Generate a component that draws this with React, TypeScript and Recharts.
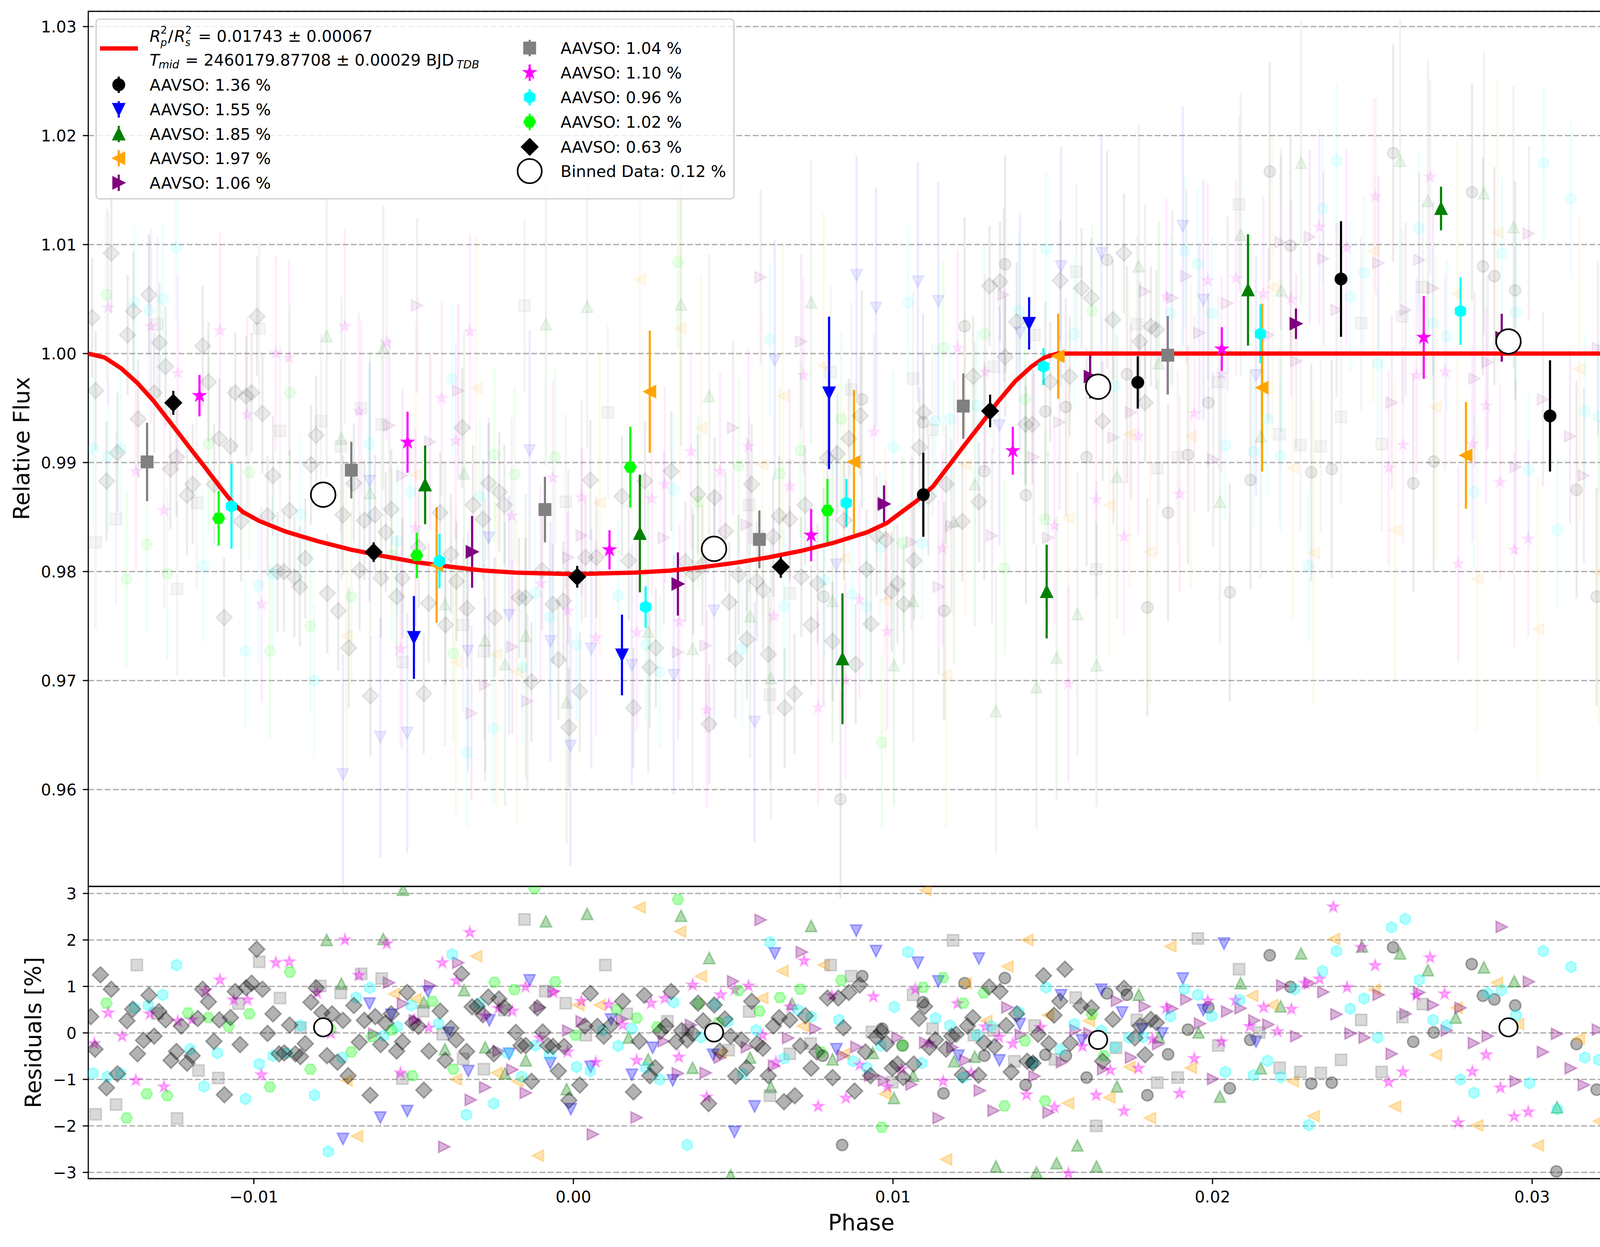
import React from 'react';
import { ComposedChart, Scatter, XAxis, YAxis, CartesianGrid, ErrorBar, ReferenceArea } from 'recharts';

// ---------------- axes ----------------
const XMIN = -0.01518;
const XMAX = 0.0332;
const FMIN = 0.95111;
const FMAX = 1.0314;
const RMIN = -3.134;
const RMAX = 3.151;
const PHASE_TICKS = [-0.01, 0, 0.01, 0.02, 0.03];
const FLUX_TICKS = [0.96, 0.97, 0.98, 0.99, 1.0, 1.01, 1.02, 1.03];
const RESID_TICKS = [-3, -2, -1, 0, 1, 2, 3];

// ---------------- legend text ----------------
const LABELS = ['AAVSO: 1.36 %', 'AAVSO: 1.55 %', 'AAVSO: 1.85 %', 'AAVSO: 1.97 %', 'AAVSO: 1.06 %', 'AAVSO: 1.04 %', 'AAVSO: 1.10 %', 'AAVSO: 0.96 %', 'AAVSO: 1.02 %', 'AAVSO: 0.63 %'];
const BINNED_LABEL = 'Binned Data: 0.12 %';

// ---------------- transit model (phase, flux) ----------------
const MODEL_CURVE = [
  [-0.01518, 1.0], [-0.01467, 0.99964], [-0.01415, 0.99864], [-0.01364, 0.99729], [-0.01313, 0.99563], [-0.01261, 0.99367], [-0.0121, 0.99172], [-0.01158, 0.98976], [-0.01107, 0.9878], [-0.01066, 0.9863], [-0.01035, 0.98548], [-0.00983, 0.98464], [-0.00901, 0.98367], [-0.00798, 0.98277], [-0.00695, 0.982], [-0.00592, 0.9814], [-0.00489, 0.98085], [-0.00387, 0.98045], [-0.00284, 0.9801], [-0.00181, 0.9799], [0.00005, 0.97976], [0.00191, 0.9799], [0.00301, 0.98008], [0.00403, 0.9804], [0.00507, 0.9808], [0.0061, 0.9813], [0.00713, 0.9819], [0.00816, 0.98265], [0.00919, 0.9836], [0.00981, 0.98445], [0.01022, 0.98535], [0.01073, 0.98645], [0.01125, 0.9878], [0.01176, 0.98976], [0.01227, 0.99172], [0.01279, 0.99367], [0.0133, 0.99563], [0.01382, 0.99744], [0.01433, 0.9988], [0.01475, 0.99965], [0.01515, 1.0], [0.0332, 1.0],
];

// ---------------- binned data ----------------
const BINNED_FLUX = [[-0.00783, 0.98705], [0.0044, 0.98208], [0.01642, 0.99696], [0.02926, 1.00111]];
const BINNED_RESID = [[-0.00783, 0.12], [0.0044, 0.01], [0.01642, -0.15], [0.02926, 0.12]];

// ---------------- per-observer binned points (phase, flux, err) ----------------
const SOLID_O = [[0.01095, 0.98705, 0.00386], [0.01766, 0.99735, 0.0024], [0.02402, 1.00684, 0.0053], [0.03056, 0.99428, 0.0051]];
const SOLID_V = [[-0.00499, 0.97395, 0.0038], [0.00152, 0.97235, 0.0037], [0.008, 0.99639, 0.007], [0.01426, 1.00277, 0.0024]];
const SOLID_UP = [[-0.00464, 0.98795, 0.0036], [0.00208, 0.98349, 0.0054], [0.00842, 0.97199, 0.006], [0.01481, 0.97816, 0.0043], [0.02111, 1.00584, 0.0051], [0.02715, 1.01331, 0.002]];
const SOLID_LEFT = [[-0.00428, 0.9806, 0.0053], [0.00239, 0.99651, 0.0056], [0.00878, 0.99006, 0.0066], [0.01517, 0.99976, 0.0039], [0.02155, 0.99687, 0.0077], [0.02793, 0.99066, 0.0049]];
const SOLID_RIGHT = [[-0.00317, 0.98181, 0.0033], [0.00327, 0.97886, 0.0029], [0.00972, 0.9862, 0.0017], [0.01617, 0.99789, 0.002], [0.02261, 1.00274, 0.0014], [0.02905, 1.00145, 0.0022]];
const SOLID_SQ = [[-0.01334, 0.99006, 0.0036], [-0.00695, 0.98931, 0.0026], [-0.00089, 0.98569, 0.003], [0.00582, 0.98295, 0.00265], [0.0122, 0.99518, 0.003], [0.0186, 0.99985, 0.0036]];
const SOLID_STAR = [[-0.0117, 0.99614, 0.0019], [-0.00519, 0.99187, 0.0028], [0.00113, 0.98199, 0.0018], [0.00744, 0.98334, 0.0024], [0.01375, 0.99108, 0.0022], [0.02029, 1.00042, 0.002], [0.02661, 1.00148, 0.0038]];
const SOLID_HEX1 = [[-0.0107, 0.98599, 0.0039], [-0.00419, 0.98096, 0.0025], [0.00226, 0.97675, 0.0019], [0.00854, 0.9863, 0.0022], [0.01471, 0.9988, 0.0017], [0.0215, 1.00181, 0.0027], [0.02776, 1.00389, 0.0031]];
const SOLID_HEX2 = [[-0.0111, 0.98488, 0.0025], [-0.0049, 0.98148, 0.0021], [0.00178, 0.98958, 0.0037], [0.00795, 0.9856, 0.0029]];
const SOLID_DIA = [[-0.01252, 0.99548, 0.0011], [-0.00625, 0.98178, 0.0009], [0.00012, 0.97952, 0.001], [0.00649, 0.98042, 0.001], [0.01304, 0.99473, 0.0015]];

// ---------------- raw points in the flux panel (phase, flux) ----------------
const BG_O = [[0.00903, 0.9958], [0.01224, 1.0025], [0.01351, 1.0082], [0.0167, 1.0086], [0.01094, 0.9937], [0.01286, 0.9892], [0.01416, 0.987], [0.01477, 0.9947], [0.01541, 0.9951], [0.01606, 0.9905], [0.0116, 0.9764], [0.00783, 0.9777], [0.01732, 0.9981], [0.01987, 0.9955], [0.02179, 1.0167], [0.02244, 1.0099], [0.02309, 0.9891], [0.02373, 0.9894], [0.02119, 0.9884], [0.01923, 0.9907], [0.01861, 0.9854], [0.01796, 0.9767], [0.02054, 0.9781], [0.02628, 0.9881], [0.02692, 0.9901], [0.02812, 1.0148], [0.02846, 1.008], [0.02882, 1.0071], [0.02947, 1.0058], [0.03139, 0.9875], [0.03202, 0.9777], [0.03266, 0.9763], [0.02565, 1.0184], [0.00836, 0.9591]];
const BG_V = [[-0.00137, 0.9911], [-0.00638, 0.9883], [-0.00265, 0.9831], [-0.00201, 0.976], [-0.00072, 0.9736], [0.00056, 0.9729], [-0.0033, 0.9727], [-0.00604, 0.9648], [-0.0052, 0.9652], [-0.00009, 0.964], [0.00886, 1.0072], [0.01078, 1.0066], [0.00947, 1.0042], [0.01142, 1.0048], [0.0063, 0.9994], [0.01397, 1.0019], [0.01526, 1.008], [0.01652, 1.0092], [0.01333, 0.9934], [0.00823, 0.9806], [0.0044, 0.9764], [0.00314, 0.9705], [0.00183, 0.9714], [0.00567, 0.9662], [0.01907, 1.0117], [0.01971, 1.0049], [0.02136, 0.998], [-0.00721, 0.9614]];
const BG_UP = [[-0.00772, 1.0016], [-0.00726, 0.9922], [-0.00595, 1.0005], [-0.00086, 1.0027], [0.00043, 1.0043], [-0.00342, 0.989], [-0.00636, 0.9872], [-0.00402, 0.977], [-0.00276, 0.9737], [-0.00214, 0.9715], [-0.00149, 0.9741], [-0.00021, 0.968], [0.00337, 1.0045], [0.00425, 0.9961], [0.00744, 1.0047], [0.00553, 0.9759], [0.00618, 0.9702], [0.00811, 0.9773], [0.01003, 0.9714], [0.01063, 0.9773], [0.01191, 0.9846], [0.01256, 0.988], [0.01322, 0.9672], [0.01449, 0.9694], [0.01512, 0.9721], [0.01577, 0.9761], [0.01637, 0.9714], [0.01701, 0.9887], [0.00373, 0.9729], [0.00234, 0.9745], [0.02277, 1.0175], [0.02587, 1.0177], [0.02849, 1.0147], [0.02674, 1.014], [0.02942, 1.0116], [0.02215, 1.0058], [0.02088, 1.0109], [0.01769, 1.008], [0.01832, 0.9991], [0.03239, 1.0064], [0.02151, 0.9924], [0.02023, 0.9864]];
const BG_LEFT = [[-0.00304, 0.9968], [-0.00494, 0.9889], [-0.00368, 0.9717], [-0.00242, 0.9724], [-0.00177, 0.9708], [-0.0071, 0.9741], [0.00082, 0.9863], [0.00207, 1.0068], [0.00334, 1.0023], [0.00399, 0.9932], [0.00591, 0.9898], [0.00656, 0.9961], [0.00783, 0.9989], [0.00847, 0.9812], [0.00975, 0.9773], [0.01166, 0.9705], [0.01227, 0.9898], [0.01548, 0.9849], [0.01677, 0.9861], [0.02892, 1.0111], [0.02503, 1.0094], [0.02188, 1.0061], [0.02766, 1.0055], [0.03148, 0.9986], [0.02699, 0.9951], [0.03273, 0.9927], [0.0174, 0.9926], [0.01932, 0.9924], [0.02251, 0.9895], [0.02571, 0.9838], [0.01804, 0.9818], [0.02316, 0.9817], [0.02828, 0.9793], [0.03209, 0.9799], [0.03018, 0.9747]];
const BG_RIGHT = [[-0.00489, 1.0044], [-0.00576, 0.9934], [-0.00448, 0.9919], [-0.0036, 0.9966], [-0.00535, 0.9888], [-0.00016, 0.9813], [-0.00319, 0.967], [-0.00276, 0.9696], [-0.00144, 0.9681], [0.00026, 0.9833], [-0.00191, 0.9731], [0.00586, 1.007], [0.00713, 1.0011], [0.005, 0.9932], [0.01521, 0.9937], [0.0144, 0.9905], [0.01346, 1.0054], [0.0169, 0.9923], [0.01183, 0.9842], [0.01058, 0.9827], [0.00543, 0.9843], [0.00414, 0.9732], [0.00327, 0.9726], [0.00283, 0.9831], [0.01143, 0.9786], [0.0131, 0.9833], [0.01485, 0.9831], [0.0299, 1.011], [0.03291, 1.0083], [0.02304, 1.0107], [0.02213, 1.0102], [0.01918, 1.0071], [0.01789, 1.0057], [0.01874, 1.0051], [0.01959, 1.0019], [0.02047, 1.0046], [0.02347, 1.0087], [0.02519, 1.0083], [0.02175, 1.0017], [0.02262, 0.9993], [0.02388, 1.004], [0.02604, 1.004], [0.02647, 1.0086], [0.0269, 1.006], [0.02861, 0.9992], [0.0282, 0.9977], [0.02949, 0.9896], [0.03034, 0.9958], [0.03119, 0.9924], [0.03162, 0.9888], [0.03206, 1.0005], [0.02561, 0.9955], [0.02002, 0.9903], [0.01745, 0.9946]];
const BG_SQ = [[-0.01302, 1.0027], [-0.00983, 1.0023], [-0.00918, 0.9929], [-0.01179, 0.9863], [-0.01431, 0.9848], [-0.01495, 0.9827], [-0.0124, 0.9784], [-0.0079, 0.9938], [-0.00728, 0.9915], [-0.00664, 0.995], [-0.006, 0.9935], [-0.00535, 0.9717], [-0.00345, 0.9751], [-0.0028, 0.9727], [-0.00153, 1.0044], [-0.00024, 0.9864], [0.00108, 0.9946], [0.0055, 0.9861], [0.00615, 0.9687], [0.00677, 0.978], [0.00805, 0.9983], [0.00869, 0.9967], [0.01063, 0.9977], [0.01124, 0.993], [0.01315, 0.9988], [0.01443, 1.0017], [0.01574, 1.0075], [0.01636, 0.9802], [0.02083, 1.0137], [0.02658, 1.0061], [0.02465, 1.0028], [0.02594, 1.0034], [0.02018, 0.9974], [0.01763, 1.0027], [0.01827, 0.9895], [0.01891, 0.9905], [0.0221, 0.9926], [0.02275, 0.9916], [0.02339, 0.9915], [0.02402, 0.9942], [0.02529, 0.9917]];
const BG_STAR = [[-0.01456, 1.0042], [-0.01322, 1.0025], [-0.01106, 1.0021], [-0.01238, 0.9982], [-0.01021, 0.9944], [-0.00931, 1.0], [-0.0089, 0.9996], [-0.00715, 1.0025], [-0.00671, 0.9947], [-0.00584, 1.001], [-0.00412, 0.9959], [-0.00368, 0.992], [-0.00324, 1.002], [-0.01369, 0.9892], [-0.01281, 0.9856], [-0.00976, 0.977], [-0.00494, 0.984], [-0.00193, 0.9851], [-0.00103, 0.9789], [-0.00064, 0.9886], [-0.00018, 0.9764], [0.00026, 0.9868], [0.0007, 0.9739], [-0.00541, 0.9729], [0.00368, 0.991], [0.00459, 0.9892], [0.00548, 0.9915], [0.00677, 0.9878], [0.0072, 0.998], [0.00941, 0.9928], [0.01202, 1.0005], [0.01289, 0.9983], [0.01636, 0.9866], [0.01505, 0.9842], [0.01155, 0.9821], [0.00982, 0.9745], [0.00895, 0.9774], [0.00852, 0.97], [0.00766, 0.9675], [0.00418, 0.9673], [0.00332, 0.9754], [0.00198, 0.9744], [0.00286, 0.988], [0.00245, 0.9867], [0.00627, 0.9759], [0.01549, 0.9697], [0.02681, 1.0162], [0.0251, 1.0144], [0.02334, 1.0116], [0.02728, 0.9983], [0.02638, 0.998], [0.02419, 1.0097], [0.02246, 1.005], [0.02159, 1.0055], [0.01985, 1.0067], [0.02074, 1.0069], [0.01856, 1.0052], [0.02028, 0.9981], [0.01943, 0.9945], [0.01768, 0.9924], [0.01897, 0.9871], [0.02596, 0.9916], [0.02551, 0.9895], [0.02856, 0.9952], [0.02813, 0.9917], [0.029, 0.9882], [0.02988, 0.983], [0.02944, 0.982], [0.02769, 0.9807], [0.01723, 0.9832]];
const BG_HEX1 = [[-0.01243, 1.0097], [-0.01285, 1.005], [-0.01328, 1.004], [-0.01374, 1.0047], [-0.01503, 0.9913], [-0.01456, 0.9906], [-0.01417, 0.9913], [-0.00638, 0.9917], [-0.00379, 0.9977], [-0.00854, 0.9853], [-0.01158, 0.9805], [-0.00985, 0.9787], [-0.01026, 0.9727], [-0.00812, 0.97], [-0.00551, 0.9828], [-0.0051, 0.9873], [-0.00293, 0.9869], [-0.00119, 0.978], [-0.00074, 0.9758], [0.0001, 0.9733], [-0.0025, 0.9656], [-0.00333, 0.9634], [-0.00942, 0.9798], [-0.0016, 0.9712], [0.00615, 1.0013], [0.01047, 1.0047], [0.00314, 0.9875], [0.01001, 0.9914], [0.01133, 0.9938], [0.01178, 0.994], [0.01263, 0.9952], [0.01394, 1.0039], [0.01479, 1.0096], [0.01567, 1.0018], [0.01091, 0.9826], [0.0096, 0.9822], [0.00917, 0.9768], [0.00872, 0.9779], [0.00787, 0.9792], [0.00659, 0.9768], [0.00528, 0.9729], [0.0027, 0.9708], [0.00227, 0.9733], [0.0014, 0.9778], [0.01695, 0.997], [0.02388, 1.0177], [0.03036, 1.0175], [0.03122, 1.0142], [0.02344, 1.0133], [0.01912, 1.0094], [0.01953, 1.0082], [0.01997, 1.0037], [0.01868, 1.0037], [0.02905, 1.0092], [0.02645, 1.0115], [0.02474, 1.0074], [0.02431, 1.0052], [0.02517, 0.9991], [0.0269, 1.0028], [0.02733, 1.0016], [0.02949, 1.0038], [0.03295, 1.0015], [0.03165, 0.9947], [0.03208, 0.9942], [0.0299, 0.9893], [0.02818, 0.9873], [0.02213, 0.9906], [0.02172, 0.994], [0.02128, 0.991], [0.0204, 0.9916], [0.02301, 0.9805], [0.03079, 0.9838], [0.03251, 0.9733]];
const BG_HEX2 = [[-0.01461, 1.0054], [-0.01335, 0.9825], [-0.01398, 0.9793], [-0.01271, 0.9798], [-0.01142, 0.9917], [-0.01014, 0.9891], [-0.00887, 0.9964], [-0.00695, 0.9777], [-0.00247, 0.9907], [-0.00184, 0.9889], [-0.00057, 0.9905], [-0.00823, 0.975], [-0.0095, 0.9727], [-0.00376, 0.9725], [-0.00568, 0.9815], [0.00327, 1.0084], [0.00517, 0.9897], [0.00646, 0.989], [0.0071, 0.9911], [0.00838, 0.994], [0.00965, 0.9643], [0.0103, 0.9826], [0.01157, 1.0005], [0.01286, 1.0018], [0.01413, 0.9958], [0.01623, 1.0039], [0.00391, 0.9864], [0.01349, 0.9803], [0.01476, 0.9848]];
const BG_DIA = [[-0.01446, 1.0092], [-0.01328, 1.0054], [-0.01377, 1.0039], [-0.01506, 1.0033], [-0.0099, 1.0034], [-0.01395, 1.0017], [-0.01295, 1.001], [-0.0116, 1.0007], [-0.01276, 0.9988], [-0.01142, 0.9974], [-0.01495, 0.9966], [-0.01312, 0.9964], [-0.01058, 0.9964], [-0.01007, 0.9964], [-0.01024, 0.9961], [-0.00973, 0.9945], [-0.01362, 0.994], [-0.00805, 0.9925], [-0.01108, 0.9922], [-0.01073, 0.9915], [-0.01427, 0.9909], [-0.01242, 0.9905], [-0.01261, 0.9894], [-0.00821, 0.9898], [-0.01461, 0.9883], [-0.0094, 0.9888], [-0.01191, 0.988], [-0.01209, 0.987], [-0.01124, 0.988], [-0.00687, 0.9881], [-0.00888, 0.9856], [-0.00957, 0.9851], [-0.0104, 0.9846], [-0.00721, 0.9852], [-0.0057, 0.9857], [-0.00654, 0.9847], [-0.00621, 0.9852], [-0.00587, 0.9836], [-0.00417, 0.9854], [-0.00348, 0.9932], [-0.00265, 0.9881], [-0.00232, 0.9873], [-0.00314, 0.9861], [-0.00216, 0.9861], [-0.00283, 0.9848], [0.00053, 0.9884], [-0.00839, 0.9812], [-0.00926, 0.98], [-0.00906, 0.98], [-0.00873, 0.9795], [-0.00856, 0.9786], [-0.00669, 0.9801], [-0.00602, 0.9794], [-0.00535, 0.9794], [-0.00484, 0.9822], [-0.00383, 0.9816], [-0.00366, 0.9791], [-0.0077, 0.978], [-0.00736, 0.9764], [-0.00553, 0.9777], [-0.00453, 0.9771], [-0.00333, 0.9766], [-0.00247, 0.9758], [-0.004, 0.9751], [-0.0017, 0.9776], [-0.0015, 0.9776], [-0.00098, 0.9801], [-0.00064, 0.977], [-0.00031, 0.9773], [0.00038, 0.9813], [0.00072, 0.9813], [-0.00703, 0.973], [-0.01093, 0.9758], [-0.00047, 0.9719], [-0.00635, 0.9686], [-0.00468, 0.9688], [-0.00131, 0.9699], [0.0002, 0.969], [-0.00014, 0.9657], [0.00306, 0.9892], [0.00224, 0.9883], [0.00152, 0.9869], [0.00173, 0.981], [0.00389, 0.9871], [0.00442, 0.9868], [0.00476, 0.9837], [0.00558, 0.988], [0.00625, 0.9832], [0.00644, 0.9851], [0.00677, 0.9848], [0.00725, 0.9861], [0.00847, 0.9847], [0.00862, 0.9922], [0.00826, 0.9908], [0.00795, 0.9904], [0.00898, 0.9943], [0.01096, 0.9946], [0.01083, 0.9914], [0.01111, 0.9869], [0.01166, 0.988], [0.01269, 0.9864], [0.01217, 0.9846], [0.01251, 0.9979], [0.01351, 0.9997], [0.01302, 1.0062], [0.01335, 1.0066], [0.01387, 1.0029], [0.01436, 0.9935], [0.01415, 0.9935], [0.01492, 0.9974], [0.01553, 0.9979], [0.01523, 1.0067], [0.0159, 1.006], [0.01621, 1.0051], [0.01688, 1.0031], [0.01656, 0.9938], [0.00404, 0.9806], [0.00517, 0.9797], [0.00574, 0.9791], [0.00594, 0.9783], [0.00713, 0.9795], [0.00764, 0.9789], [0.00917, 0.9802], [0.00949, 0.9833], [0.00978, 0.9829], [0.00996, 0.9782], [0.01014, 0.9789], [0.01034, 0.977], [0.01066, 0.981], [0.00239, 0.9712], [0.00258, 0.973], [0.00188, 0.9675], [0.00425, 0.966], [0.00507, 0.972], [0.00543, 0.9738], [0.0061, 0.9724], [0.00661, 0.9675], [0.00692, 0.9688], [0.00744, 0.9751], [0.00811, 0.9736], [0.00883, 0.9715], [0.00931, 0.9752], [0.00375, 0.9798], [0.00488, 0.9772], [0.0035, 0.9809], [0.01723, 1.0092], [0.01773, 1.0011], [0.01807, 1.0025], [0.01824, 1.0022], [0.01789, 0.9955]];

// typical raw-point flux error of each observer
const BG_ERRORS = [0.01, 0.011, 0.013, 0.014, 0.008, 0.008, 0.009, 0.007, 0.008, 0.0055];

// ---------------- residuals (phase, residual %) ----------------
const RES_O = [[0.00841, -2.41], [0.0078, -0.49], [0.00904, 1.22], [0.00966, 0.09], [0.0103, -0.27], [0.01094, 0.66], [0.01158, -1.3], [0.01224, 1.07], [0.01286, -0.49], [0.0135, 1.18], [0.01415, -1.12], [0.01436, -0.64], [0.01477, -0.47], [0.01541, -0.49], [0.01606, -0.96], [0.0167, 0.85], [0.01732, 0.82], [0.01796, -1.34], [0.01861, -0.46], [0.01923, 0.07], [0.01987, 0.55], [0.02054, -1.19], [0.02118, -0.15], [0.02179, 1.67], [0.02244, 0.99], [0.02309, -1.09], [0.02373, -1.07], [0.02565, 1.84], [0.02628, -0.19], [0.02692, 0.01], [0.02811, 1.48], [0.02846, 0.8], [0.02882, 0.72], [0.02947, 0.59], [0.03076, -2.98], [0.03139, -0.24], [0.03202, -1.22], [0.03266, -1.38]];
const RES_V = [[-0.00638, 0.63], [-0.00569, 0.39], [-0.00455, 0.89], [-0.00391, 0.0], [-0.00329, -0.82], [-0.00263, 0.27], [-0.00201, -0.45], [-0.00137, 1.13], [-0.00072, -0.65], [-0.00008, -1.64], [0.00054, -0.73], [-0.00721, -2.28], [-0.00604, -1.82], [-0.0052, -1.68], [0.00118, 0.29], [0.00183, -0.9], [0.00248, -0.32], [0.00311, -1.02], [0.00437, -0.47], [0.00504, -2.13], [0.00567, -1.58], [0.0063, 1.71], [0.00823, -0.35], [0.00885, 2.2], [0.00947, 1.76], [0.01078, 1.51], [0.01142, 1.11], [0.01205, -0.49], [0.01269, 1.6], [0.01333, -0.59], [0.01397, 0.19], [0.01526, 0.81], [0.01591, -0.16], [0.01652, 0.93], [0.01717, 0.44], [0.01779, 0.08], [0.01843, -0.01], [0.01907, 1.17], [0.01971, 0.49], [0.02036, 1.92], [0.02136, -0.19]];
const RES_UP = [[-0.00772, 2.0], [-0.00726, 1.06], [-0.00595, 2.02], [-0.00533, 3.08], [-0.00468, 0.66], [-0.00402, -0.35], [-0.00342, 0.92], [-0.00276, -0.31], [-0.00214, -0.87], [-0.00149, -0.59], [-0.00086, 2.4], [-0.00021, -1.21], [0.00043, 2.56], [0.00173, -0.1], [0.00234, -0.57], [0.00337, 2.52], [0.00373, -0.75], [0.00425, 1.61], [0.00492, -3.06], [0.00553, -0.53], [0.00618, -1.16], [0.00684, 0.63], [0.00744, 2.3], [0.00811, -0.57], [0.00937, -0.43], [0.01003, -1.4], [0.01063, -0.92], [0.01191, -0.61], [0.01256, -0.51], [0.01322, -2.87], [0.01449, -3.0], [0.01512, -2.8], [0.01577, -2.42], [0.01637, -2.87], [0.01701, -1.15], [0.01769, 0.82], [0.01832, -0.09], [0.01956, 0.01], [0.02023, -1.37], [0.02088, 1.07], [0.02151, -0.76], [0.02213, 0.57], [0.02277, 1.71], [0.02468, 1.86], [0.02587, 1.71], [0.02674, 1.35], [0.02761, 0.33], [0.02849, 1.41], [0.02944, 1.11], [0.03078, -1.6], [0.03239, 0.6]];
const RES_LEFT = [[-0.00561, 0.84], [-0.00494, 0.73], [-0.00304, 1.65], [-0.00368, -1.0], [-0.0024, -0.86], [-0.00175, -1.04], [-0.00111, -2.64], [0.00015, 0.6], [0.00082, 0.6], [-0.00677, -2.22], [-0.0071, -1.02], [0.00207, 2.7], [0.00334, 2.18], [0.00399, 1.22], [0.00461, -0.43], [0.00591, 0.75], [0.00654, 1.33], [0.00718, 0.15], [0.00783, 1.46], [0.00847, -0.45], [0.00975, -1.31], [0.01102, 3.07], [0.01166, -2.72], [0.01227, 1.07], [0.01292, 0.26], [0.01358, 1.43], [0.0142, 2.0], [0.01485, 0.38], [0.01548, -1.51], [0.01613, 0.26], [0.01677, -1.39], [0.0174, -0.73], [0.01804, -1.83], [0.01868, 1.86], [0.01932, -0.75], [0.02124, 0.8], [0.02187, 0.6], [0.02251, -1.04], [0.02316, -1.79], [0.0238, 2.02], [0.02506, 0.93], [0.02571, -1.58], [0.02699, -0.47], [0.02764, 0.54], [0.02828, -1.99], [0.0289, 1.08], [0.02956, 0.19], [0.03018, -2.42], [0.03146, -0.12], [0.03209, -1.9], [0.03273, -0.67]];
const RES_RIGHT = [[-0.00577, 1.08], [-0.00533, 0.63], [-0.00448, 1.02], [-0.0036, 1.51], [-0.00321, -1.44], [-0.00276, -1.17], [-0.00191, -0.79], [-0.00234, -0.39], [-0.00404, -2.45], [-0.00105, 0.55], [-0.00062, 0.89], [-0.00016, 0.05], [0.00026, 0.25], [0.00061, -2.18], [-0.00149, -1.29], [-0.00623, -0.02], [-0.00496, 0.27], [0.00152, 0.3], [0.00198, -1.82], [0.00283, -0.18], [0.00327, -0.87], [0.00368, 0.17], [0.00414, -0.86], [0.00458, -0.53], [0.005, 1.11], [0.00543, -0.31], [0.00586, 2.43], [0.00628, -0.71], [0.00672, -0.11], [0.00715, 1.74], [0.00757, 0.09], [0.00844, -0.49], [0.00886, -0.3], [0.00929, -0.92], [0.00972, -1.02], [0.01014, -0.1], [0.01058, -1.11], [0.01101, -0.21], [0.01143, -1.83], [0.01186, -0.31], [0.01227, -0.59], [0.01272, -1.24], [0.01315, -1.67], [0.01358, 0.55], [0.014, -0.04], [0.01443, -0.93], [0.01487, -1.71], [0.01529, -0.63], [0.01572, 0.06], [0.01615, -0.01], [0.01658, -0.78], [0.01701, 0.69], [0.01745, -0.53], [0.01788, 0.57], [0.0183, -0.24], [0.01874, 0.52], [0.01918, 0.72], [0.01961, 0.2], [0.02002, -0.99], [0.02046, 0.46], [0.02088, 0.53], [0.02131, 0.27], [0.02175, 0.18], [0.02218, 1.02], [0.02262, -0.07], [0.02304, 1.07], [0.02347, 0.88], [0.02388, 0.4], [0.02432, -0.01], [0.02476, -0.1], [0.0252, 0.82], [0.02561, -0.45], [0.02604, 0.41], [0.02647, 0.87], [0.0269, 0.6], [0.02733, 0.05], [0.02776, 0.54], [0.02818, -0.22], [0.02861, -0.07], [0.02905, 2.28], [0.02949, -1.04], [0.0299, 1.1], [0.03034, -0.41], [0.03078, -0.02], [0.03121, -0.76], [0.03162, -1.12], [0.03206, 0.07], [0.03249, 2.17], [0.03292, 0.84]];
const RES_SQ = [[-0.01366, 1.46], [-0.01431, -1.54], [-0.01495, -1.75], [-0.0124, -1.84], [-0.01173, -0.81], [-0.01111, -0.97], [-0.01048, 0.63], [-0.00983, 1.53], [-0.00918, 0.75], [-0.00854, 0.11], [-0.00792, 1.01], [-0.00728, 0.86], [-0.00664, 1.27], [-0.006, 1.17], [-0.00535, -0.98], [-0.0047, 0.47], [-0.00409, -0.03], [-0.00345, -0.56], [-0.0028, -0.78], [-0.00216, 0.49], [-0.00153, 2.44], [-0.00088, 0.9], [-0.00024, 0.64], [0.00039, -0.05], [0.001, 1.46], [-0.01302, 0.42], [0.00167, 0.41], [0.00294, 0.25], [0.00358, 0.07], [0.00486, -0.37], [0.0055, 0.46], [0.00615, -1.35], [0.00677, -0.45], [0.00742, -0.23], [0.00805, 1.46], [0.00869, 1.22], [0.00934, 0.02], [0.00998, -1.06], [0.01063, 0.82], [0.01124, 0.09], [0.01188, 1.99], [0.01253, -0.05], [0.01315, 0.05], [0.0138, -0.61], [0.01443, 0.16], [0.01507, -0.57], [0.01572, 0.76], [0.01636, -2.0], [0.01698, -0.32], [0.01763, 0.28], [0.01827, -1.07], [0.01891, -0.96], [0.01954, 2.03], [0.02018, -0.27], [0.02083, 1.37], [0.02146, 0.01], [0.0221, -0.75], [0.02275, -0.84], [0.02339, -0.86], [0.02402, -0.58], [0.02465, 0.28], [0.02529, -0.84], [0.02594, 0.34], [0.02658, 0.62]];
const RES_STAR = [[-0.01456, 0.43], [-0.01499, -0.23], [-0.01412, -0.07], [-0.01369, -1.02], [-0.01325, 0.41], [-0.01281, -1.16], [-0.01238, 0.25], [-0.01194, 0.28], [-0.01151, 0.9], [-0.01106, 1.14], [-0.01063, 0.71], [-0.0102, 0.71], [-0.00976, -0.9], [-0.00931, 1.51], [-0.00889, 1.53], [-0.00802, 0.86], [-0.00759, -0.01], [-0.00715, 2.0], [-0.00671, 1.24], [-0.00584, 1.92], [-0.00541, -0.86], [-0.00497, 0.28], [-0.00453, 0.11], [-0.0041, 1.51], [-0.00366, 1.12], [-0.00324, 2.16], [-0.00278, 0.37], [-0.00235, 0.53], [-0.00191, 0.47], [-0.0015, 0.99], [-0.00105, -0.11], [-0.00062, 0.87], [-0.00018, -0.41], [0.00025, 0.68], [0.0007, -0.63], [0.00111, 0.61], [0.00154, 0.17], [0.00198, -0.59], [0.00243, 0.64], [0.00286, 0.74], [0.0033, -0.52], [0.00373, 1.03], [0.00417, -1.38], [0.00461, 0.82], [0.00505, 0.93], [0.00548, 1.01], [0.00592, -0.05], [0.00634, -0.63], [0.00679, 0.56], [0.00722, 1.55], [0.00766, -1.58], [0.00809, 0.8], [0.00853, -1.4], [0.00896, -0.69], [0.00939, 0.78], [0.00982, -1.16], [0.01027, -0.78], [0.0107, 0.94], [0.01114, -0.23], [0.01157, -1.04], [0.01202, 0.63], [0.01245, -0.86], [0.01289, 0.13], [0.01332, -0.09], [0.01375, -0.23], [0.01418, -1.33], [0.01462, 0.12], [0.01505, -1.6], [0.01549, -3.02], [0.01593, -0.29], [0.01636, -1.34], [0.0168, -0.8], [0.01723, -1.68], [0.01768, -0.76], [0.01812, -0.13], [0.01855, 0.53], [0.01897, -1.3], [0.01943, -0.55], [0.01985, 0.69], [0.02028, -0.19], [0.02072, 0.7], [0.02116, 0.14], [0.0216, 0.55], [0.02203, 0.03], [0.02247, 0.51], [0.0229, 1.07], [0.02335, 1.16], [0.02378, 2.71], [0.02421, 0.98], [0.02465, 1.84], [0.02509, 1.45], [0.02551, -1.06], [0.02596, -0.84], [0.02638, 0.81], [0.02681, 1.62], [0.02726, 0.84], [0.02769, -1.93], [0.02813, -0.83], [0.02856, -0.47], [0.02901, -1.18], [0.02944, -1.8], [0.02988, -1.7]];
const RES_HEX1 = [[-0.01503, -0.87], [-0.01458, -0.94], [-0.01417, -0.87], [-0.01374, 0.54], [-0.0133, 0.59], [-0.01285, 0.82], [-0.01242, 1.46], [-0.01199, -0.35], [-0.01156, -1.15], [-0.01114, -0.43], [-0.01026, -1.42], [-0.00983, -0.67], [-0.0094, -0.49], [-0.00896, -0.43], [-0.00854, 0.16], [-0.0081, -1.34], [-0.00767, -2.55], [-0.00724, -0.53], [-0.0068, 0.76], [-0.00637, 0.97], [-0.00594, -0.06], [-0.00551, 0.13], [-0.00507, 0.59], [-0.00422, 0.2], [-0.00379, 1.69], [-0.00335, -1.76], [-0.00294, 0.63], [-0.00249, -1.52], [-0.00206, -0.43], [-0.00162, -0.94], [-0.00119, -0.27], [-0.00075, -0.47], [0.0001, -0.73], [0.00053, -0.82], [0.00092, 0.06], [0.0014, -0.28], [0.00183, 0.09], [0.00227, -0.75], [0.0027, -1.0], [0.00314, 0.66], [0.00356, -2.41], [0.00399, -0.09], [0.00443, 0.61], [0.00484, 0.25], [0.0053, -0.88], [0.00572, 0.06], [0.00615, 1.95], [0.00659, -0.55], [0.00703, 0.49], [0.00744, 0.35], [0.00831, 0.28], [0.00875, -0.61], [0.00919, -0.75], [0.00962, -0.27], [0.01004, 0.56], [0.01047, 1.74], [0.0109, -0.65], [0.01133, 0.32], [0.01178, 0.16], [0.0122, -0.96], [0.01263, -0.05], [0.01307, 0.15], [0.01394, 0.45], [0.01436, -0.64], [0.01479, 0.98], [0.01523, -0.36], [0.01567, 0.19], [0.01652, 0.05], [0.01695, -0.31], [0.01738, -0.1], [0.01783, -0.09], [0.01868, 0.36], [0.01912, 0.94], [0.01954, 0.82], [0.01997, 0.36], [0.0204, -0.84], [0.02085, 0.71], [0.02128, -0.91], [0.02172, -0.6], [0.02213, -0.95], [0.02257, 0.94], [0.02301, -1.98], [0.02344, 1.33], [0.02388, 1.76], [0.02431, 0.52], [0.02474, 0.74], [0.02517, -0.1], [0.0256, 2.27], [0.02603, 2.45], [0.02647, 1.14], [0.0269, 0.28], [0.02733, 0.16], [0.02776, -1.0], [0.02818, -1.29], [0.02861, 0.85], [0.02905, 0.92], [0.02949, 0.38], [0.02992, -1.08], [0.03035, 1.76], [0.03079, -1.64], [0.03122, 1.42], [0.03165, -0.53], [0.03208, -0.58], [0.03251, -2.67], [0.03295, 0.15]];
const RES_HEX2 = [[-0.01461, 0.64], [-0.01398, -1.83], [-0.01335, -1.31], [-0.01271, -1.35], [-0.01206, 0.43], [-0.01142, 0.33], [-0.01079, 0.14], [-0.01014, 0.41], [-0.0095, -1.16], [-0.00887, 1.31], [-0.00823, -0.78], [-0.0076, 0.09], [-0.00695, -0.41], [-0.00631, -0.08], [-0.00568, 0.06], [-0.00504, -0.92], [-0.00441, 0.68], [-0.00376, -0.78], [-0.00247, 1.09], [-0.00184, 0.93], [-0.00122, 3.1], [-0.00057, 1.1], [0.00007, -0.05], [0.00135, 0.5], [0.00198, 0.32], [0.00262, 0.13], [0.00327, 2.87], [0.00391, 0.63], [0.00453, 0.22], [0.00517, 0.91], [0.00582, 0.47], [0.00646, 0.76], [0.0071, 0.94], [0.00775, -0.41], [0.00838, 1.13], [0.00965, -2.03], [0.0103, -0.27], [0.01094, 0.98], [0.01157, 1.19], [0.0122, 0.64], [0.01284, 0.86], [0.01349, -1.57], [0.01413, -0.17], [0.01476, -1.46], [0.01623, 0.4], [0.0166, -0.49]];
const RES_DIA = [[-0.0151, 0.35], [-0.0148, 1.25], [-0.01497, -0.35], [-0.01446, 0.94], [-0.01461, -1.18], [-0.01427, -0.88], [-0.01397, 0.26], [-0.01379, 0.51], [-0.01364, -0.45], [-0.01345, -0.16], [-0.01328, 0.81], [-0.01312, -0.07], [-0.01297, 0.46], [-0.01276, 0.28], [-0.01259, -0.59], [-0.01242, -0.4], [-0.01227, 0.15], [-0.01209, -0.65], [-0.01193, -0.49], [-0.01175, 0.31], [-0.0116, 0.94], [-0.01142, 0.67], [-0.01125, -0.18], [-0.01108, 0.28], [-0.01092, -1.33], [-0.01073, 0.33], [-0.01058, 0.89], [-0.01043, -0.25], [-0.01024, 0.97], [-0.01007, 1.07], [-0.00991, 1.8], [-0.00973, 0.94], [-0.00957, -0.01], [-0.0094, 0.41], [-0.00921, -0.45], [-0.00905, -0.43], [-0.00888, 0.17], [-0.0087, -0.45], [-0.00854, -0.51], [-0.00839, -0.23], [-0.00821, 0.66], [-0.00805, 0.97], [-0.00787, 0.44], [-0.00771, -0.49], [-0.00755, 0.41], [-0.00738, -0.63], [-0.00721, 0.27], [-0.00705, -0.92], [-0.00687, 0.59], [-0.0067, -0.2], [-0.00654, 0.27], [-0.00636, -1.34], [-0.0062, 0.35], [-0.00603, -0.25], [-0.00587, 0.21], [-0.0057, 0.41], [-0.00553, -0.39], [-0.00535, -0.19], [-0.0052, 0.87], [-0.00502, 0.21], [-0.00485, 0.14], [-0.00468, -1.23], [-0.00452, -0.39], [-0.00417, 0.47], [-0.00401, -0.59], [-0.00383, 0.1], [-0.00367, -0.15], [-0.0035, 1.27], [-0.00334, -0.4], [-0.00317, 0.56], [-0.00301, 0.57], [-0.00283, 0.39], [-0.00266, 0.77], [-0.00249, -0.45], [-0.00233, 0.73], [-0.00216, 0.55], [-0.0018, 0.01], [-0.00164, -0.27], [-0.00149, -0.27], [-0.00131, -1.04], [-0.00113, 0.54], [-0.00096, 0.02], [-0.0008, -0.27], [-0.00064, -0.29], [-0.00047, -0.82], [-0.00029, -0.29], [-0.00014, -1.45], [0.0002, -1.12], [0.00036, 0.15], [0.00053, 0.85], [0.00075, 0.14], [0.00095, -0.07], [0.00118, 0.17], [0.00154, 0.68], [0.00188, -1.27], [0.00206, -0.18], [0.00222, 0.81], [0.00239, -0.92], [0.00256, -0.75], [0.00272, 0.03], [0.00289, 0.15], [0.00306, 0.89], [0.00322, -0.19], [0.00339, 0.05], [0.00356, -0.15], [0.00373, -0.01], [0.0039, 0.64], [0.00406, 0.26], [0.00423, -1.52], [0.00441, 0.6], [0.00458, -0.39], [0.00474, 0.3], [0.00492, -0.07], [0.00508, -0.93], [0.00526, -0.15], [0.00542, -0.75], [0.00558, 0.68], [0.00575, -0.23], [0.00593, -0.33], [0.0061, -0.92], [0.00626, 0.15], [0.00644, 0.33], [0.00659, -1.48], [0.00677, 0.28], [0.00693, -1.35], [0.0071, -0.28], [0.00726, 0.37], [0.00744, -0.76], [0.00761, -0.41], [0.00795, 0.75], [0.00811, -0.96], [0.00829, 0.75], [0.00845, 0.11], [0.00862, 0.87], [0.0088, -1.25], [0.00896, 1.03], [0.00914, -0.41], [0.0093, -0.92], [0.00947, -0.09], [0.00964, 0.03], [0.0098, -0.23], [0.00998, -0.76], [0.01014, -0.67], [0.01032, -0.96], [0.01065, -0.67], [0.01081, 0.31], [0.01099, 0.57], [0.01114, -0.31], [0.01133, -0.15], [0.01166, -0.35], [0.01184, -0.07], [0.01198, -0.03], [0.01217, -0.9], [0.01233, 0.15], [0.0125, 0.33], [0.01268, -0.91], [0.01285, -0.21], [0.01301, 0.99], [0.01318, -0.29], [0.01335, 0.89], [0.01354, 0.16], [0.0137, -0.84], [0.01387, 0.41], [0.0142, -0.61], [0.01438, -0.65], [0.01454, -0.03], [0.01471, 1.23], [0.01488, -0.23], [0.01504, 0.38], [0.01522, 0.68], [0.01538, 1.37], [0.01555, -0.22], [0.01588, 0.58], [0.01621, 0.54], [0.01656, -0.61], [0.01688, 0.29], [0.01723, 0.96], [0.01757, -0.11], [0.01773, 0.15], [0.01789, -0.47], [0.01807, 0.29], [0.01824, 0.22]];

// ---------------- styles ----------------
const STYLES = [
  { kind: 'o', color: '#000000' },
  { kind: 'v', color: '#0000ff' },
  { kind: '^', color: '#008000' },
  { kind: '<', color: '#ffa500' },
  { kind: '>', color: '#800080' },
  { kind: 's', color: '#808080' },
  { kind: '*', color: '#ff00ff' },
  { kind: 'h', color: '#00ffff' },
  { kind: 'H', color: '#00ff00' },
  { kind: 'D', color: '#000000' },
];
const SOLID = [SOLID_O, SOLID_V, SOLID_UP, SOLID_LEFT, SOLID_RIGHT, SOLID_SQ, SOLID_STAR, SOLID_HEX1, SOLID_HEX2, SOLID_DIA];
const BG = [BG_O, BG_V, BG_UP, BG_LEFT, BG_RIGHT, BG_SQ, BG_STAR, BG_HEX1, BG_HEX2, BG_DIA];
const RES = [RES_O, RES_V, RES_UP, RES_LEFT, RES_RIGHT, RES_SQ, RES_STAR, RES_HEX1, RES_HEX2, RES_DIA];

const SERIES = STYLES.map((st, i) => ({
  ...st,
  id: i,
  label: LABELS[i],
  solid: SOLID[i].map(([x, y, e]) => ({ x, y, e })),
  bg: BG[i].map(([x, y]) => ({ x, y, e: BG_ERRORS[i] })),
  res: RES[i].map(([x, y]) => ({ x, y })),
}));
const MODEL_DATA = MODEL_CURVE.map(([x, y]) => ({ x, y }));
const BINNED_DATA = BINNED_FLUX.map(([x, y]) => ({ x, y }));
const BINNED_RES_DATA = BINNED_RESID.map(([x, y]) => ({ x, y }));

// ---------------- drawing helpers ----------------
const FONT = "'DejaVu Sans', sans-serif";
const MS = 29;
const EW = 3.9;
const ELW = 5.5;
const FAINT = 0.08;
const RES_ALPHA = 0.3;

function rgba(hex: string, a: number) {
  const n = parseInt(hex.slice(1), 16);
  return `rgba(${(n >> 16) & 255},${(n >> 8) & 255},${n & 255},${a})`;
}

function polyPts(kind: string, r: number): number[][] {
  const out: number[][] = [];
  if (kind === '^') return [[0, -r], [-r, r], [r, r]];
  if (kind === 'v') return [[0, r], [-r, -r], [r, -r]];
  if (kind === '<') return [[-r, 0], [r, -r], [r, r]];
  if (kind === '>') return [[r, 0], [-r, -r], [-r, r]];
  if (kind === 'D') { const h = r * 1.4142; return [[0, -h], [h, 0], [0, h], [-h, 0]]; }
  if (kind === 'h' || kind === 'H') {
    const off = kind === 'h' ? -90 : 0;
    for (let k = 0; k < 6; k++) { const a = ((off + 60 * k) * Math.PI) / 180; out.push([r * Math.cos(a), r * Math.sin(a)]); }
    return out;
  }
  if (kind === '*') {
    for (let k = 0; k < 10; k++) {
      const a = ((-90 + 36 * k) * Math.PI) / 180;
      const rr = k % 2 === 0 ? r : r * 0.381966;
      out.push([rr * Math.cos(a), rr * Math.sin(a)]);
    }
    return out;
  }
  return out;
}

function Marker({ kind, cx, cy, ms, color, alpha = 1, ew = EW, fill }: any) {
  if (cx == null || cy == null || isNaN(cx) || isNaN(cy)) return <g />;
  const r = ms / 2;
  const common = {
    fill: fill ?? color,
    fillOpacity: fill ? 1 : alpha,
    stroke: color,
    strokeOpacity: alpha,
    strokeWidth: ew,
  };
  if (kind === 'o') return <circle cx={cx} cy={cy} r={r} {...common} />;
  if (kind === 's') return <rect x={cx - r} y={cy - r} width={ms} height={ms} {...common} />;
  const pts = polyPts(kind, r).map(([x, y]) => `${(cx + x).toFixed(2)},${(cy + y).toFixed(2)}`).join(' ');
  return <polygon points={pts} {...common} strokeLinejoin="miter" />;
}

const shapeOf = (kind: string, ms: number, color: string, alpha: number, ew = EW, fill?: string) => (p: any) => (
  <Marker kind={kind} cx={p.cx} cy={p.cy} ms={ms} color={color} alpha={alpha} ew={ew} fill={fill} />
);

const MainYTitle = () => (
  <text x={75} y={1148} transform="rotate(-90 75 1148)" textAnchor="middle" fontSize={57} fill="#000" fontFamily={FONT}>Relative Flux</text>
);
const ResYTitle = () => (
  <text x={105} y={443} transform="rotate(-90 105 443)" textAnchor="middle" fontSize={57} fill="#000" fontFamily={FONT}>Residuals [%]</text>
);
const XTitle = () => (
  <text x={2205} y={949} textAnchor="middle" fontSize={57} fill="#000" fontFamily={FONT}>Phase</text>
);

const fmtMinus = (s: string) => s.replace('-', '\u2212');

function LegendBox() {
  const col1 = [217, 280, 343, 405, 468];
  const col2 = [123, 186, 249, 312, 376];
  const fs = 41;
  const entry = (i: number, mx: number, cy: number, tx: number) => {
    const s = SERIES[i];
    return (
      <g key={'lg' + i}>
        <line x1={mx} x2={mx} y1={cy - 21} y2={cy + 21} stroke={s.color} strokeWidth={ELW} />
        <Marker kind={s.kind} cx={mx} cy={cy} ms={MS} color={s.color} alpha={1} />
        <text x={tx} y={cy + 15} fontSize={fs} fill="#000">{s.label}</text>
      </g>
    );
  };
  return (
    <svg width={4215} height={560} style={{ position: 'absolute', left: 0, top: 0, fontFamily: FONT, pointerEvents: 'none' }}>
      <rect x={246} y={49} width={1633} height={460} rx={9} ry={9} fill="#ffffff" fillOpacity={0.8} stroke="#cccccc" strokeWidth={3} />
      <line x1={256} x2={353} y1={124} y2={124} stroke="#ff0000" strokeWidth={11} />
      {/* R_p^2 / R_s^2 = ... */}
      <text x={383} y={107} fontSize={fs} fill="#000" fontStyle="italic">R</text>
      <text x={411} y={86} fontSize={26} fill="#000">2</text>
      <text x={411} y={118} fontSize={26} fill="#000" fontStyle="italic">p</text>
      <text x={430} y={107} fontSize={fs} fill="#000">/</text>
      <text x={446} y={107} fontSize={fs} fill="#000" fontStyle="italic">R</text>
      <text x={474} y={86} fontSize={26} fill="#000">2</text>
      <text x={474} y={118} fontSize={26} fill="#000" fontStyle="italic">s</text>
      <text x={507} y={107} fontSize={fs} fill="#000">= 0.01743 ± 0.00067</text>
      {/* T_mid = ... BJD_TDB */}
      <text x={383} y={168} fontSize={fs} fill="#000" fontStyle="italic">T</text>
      <text x={406} y={175} fontSize={28} fill="#000" fontStyle="italic">mid</text>
      <text x={474} y={168} fontSize={fs} fill="#000">= 2460179.87708 ± 0.00029 BJD</text>
      <text x={1169} y={175} fontSize={28} fill="#000" fontStyle="italic">TDB</text>
      {col1.map((cy, k) => entry(k, 304, cy, 383))}
      {col2.map((cy, k) => entry(k + 5, 1356, cy, 1435))}
      <circle cx={1356} cy={438} r={31} fill="#ffffff" stroke="#000" strokeWidth={4.2} />
      <text x={1435} y={453} fontSize={fs} fill="#000">{BINNED_LABEL}</text>
    </svg>
  );
}

export default function App() {
  const tickStyle = { fontSize: 41, fill: '#000', fontFamily: FONT };
  const tickLine = { stroke: '#000', strokeWidth: 3 };
  const grid = <CartesianGrid vertical={false} stroke="#a6a6a6" strokeWidth={3} strokeDasharray="15 6" />;
  return (
    <div style={{ position: 'absolute', left: 0, top: 0, width: 4215, height: 3192, background: '#fff', fontFamily: FONT, overflow: 'hidden' }}>
      <div style={{ position: 'absolute', left: 0, top: 0 }}>
        <ComposedChart width={4215} height={2300} margin={{ top: 29, right: 31, bottom: 31, left: 0 }}>
          {grid}
          <XAxis type="number" dataKey="x" domain={[XMIN, XMAX]} allowDataOverflow hide />
          <YAxis type="number" dataKey="y" domain={[FMIN, FMAX]} allowDataOverflow ticks={FLUX_TICKS} interval={0}
            tickFormatter={(v: number) => v.toFixed(2)} width={226} tickSize={14} tickMargin={16}
            tick={tickStyle} tickLine={tickLine} axisLine={false} label={<MainYTitle />} />
          {SERIES.map((s) => (
            <Scatter key={'bg' + s.id} data={s.bg} shape={shapeOf(s.kind, MS, s.color, FAINT)} isAnimationActive={false}>
              <ErrorBar dataKey="e" direction="y" width={0} stroke={rgba(s.color, FAINT)} strokeWidth={ELW} />
            </Scatter>
          ))}
          <Scatter data={MODEL_DATA} line={{ stroke: '#ff0000', strokeWidth: 11 }} shape={() => <g />} isAnimationActive={false} />
          {SERIES.map((s) => (
            <Scatter key={'so' + s.id} data={s.solid} shape={shapeOf(s.kind, MS, s.color, 1)} isAnimationActive={false}>
              <ErrorBar dataKey="e" direction="y" width={0} stroke={s.color} strokeWidth={ELW} />
            </Scatter>
          ))}
          <Scatter data={BINNED_DATA} shape={shapeOf('o', 63, '#000000', 1, 4.2, '#ffffff')} isAnimationActive={false} />
          <ReferenceArea x1={XMIN} x2={XMAX} y1={FMIN} y2={FMAX} fill="none" stroke="#000" strokeWidth={3} />
        </ComposedChart>
      </div>
      <div style={{ position: 'absolute', left: 0, top: 2200 }}>
        <ComposedChart width={4215} height={992} margin={{ top: 69, right: 31, bottom: 0, left: 0 }}>
          {grid}
          <XAxis type="number" dataKey="x" domain={[XMIN, XMAX]} allowDataOverflow ticks={PHASE_TICKS} interval={0}
            tickFormatter={(v: number) => fmtMinus(v.toFixed(2))} height={175} tickSize={14} tickMargin={18}
            tick={tickStyle} tickLine={tickLine} axisLine={false} label={<XTitle />} />
          <YAxis type="number" dataKey="y" domain={[RMIN, RMAX]} allowDataOverflow ticks={RESID_TICKS} interval={0}
            tickFormatter={(v: number) => fmtMinus(String(v))} width={226} tickSize={14} tickMargin={16}
            tick={tickStyle} tickLine={tickLine} axisLine={false} label={<ResYTitle />} />
          {SERIES.map((s) => (
            <Scatter key={'rs' + s.id} data={s.res} shape={shapeOf(s.kind, MS, s.color, RES_ALPHA)} isAnimationActive={false} />
          ))}
          <Scatter data={BINNED_RES_DATA} shape={shapeOf('o', 47, '#000000', 1, 4.2, '#ffffff')} isAnimationActive={false} />
          <ReferenceArea x1={XMIN} x2={XMAX} y1={RMIN} y2={RMAX} fill="none" stroke="#000" strokeWidth={3} />
        </ComposedChart>
      </div>
      <LegendBox />
    </div>
  );
}
